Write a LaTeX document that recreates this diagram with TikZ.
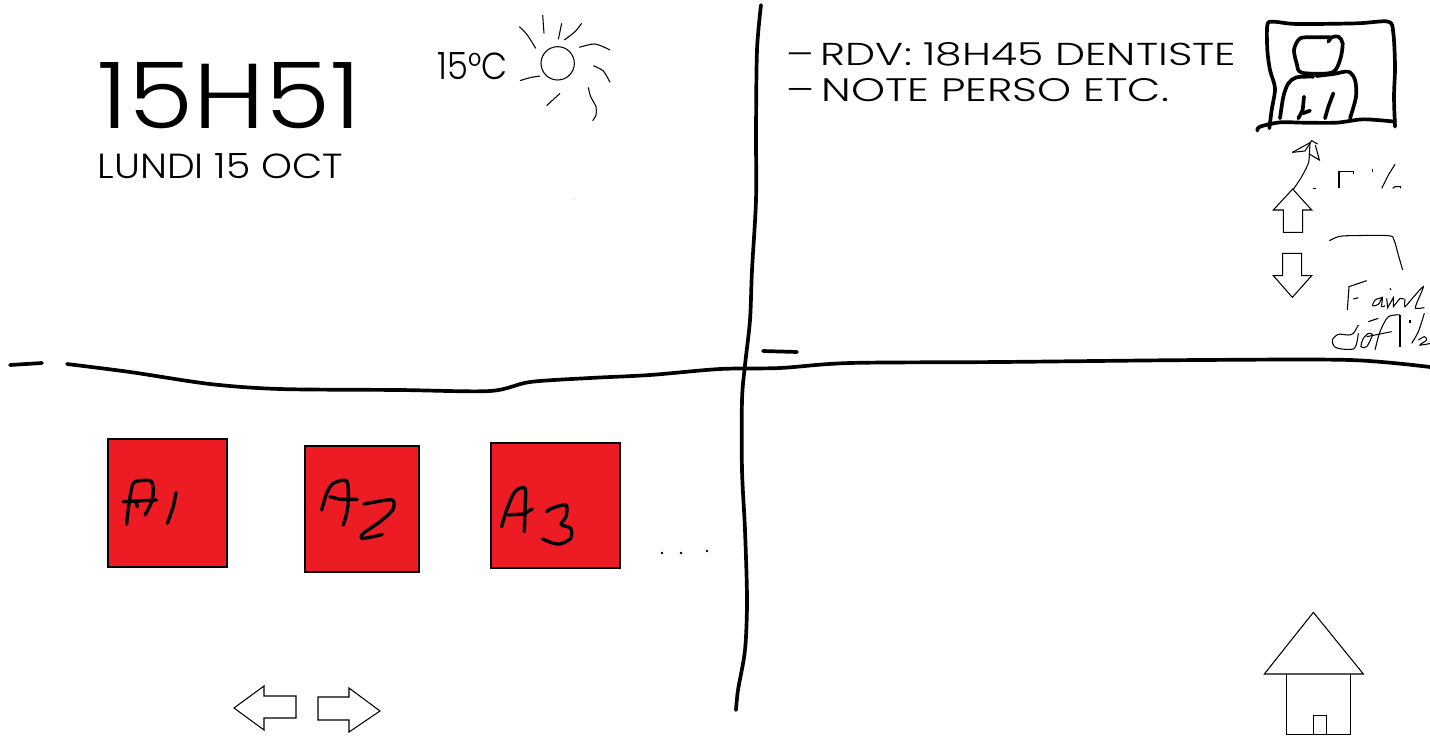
\documentclass[tikz,border=0pt]{standalone}
\usepackage{fontspec}
\newfontfamily\screenfont{Poppins Light}
\definecolor{tilered}{HTML}{ED1C24}
\tikzset{
  inkline/.style={line width=1.05pt,line cap=round,line join=round},
  penline/.style={line width=.95pt,line cap=round,line join=round},
  hairline/.style={line width=.3pt,line join=miter},
  tile/.style={fill=tilered,draw=black,line width=.3pt},
  screentext/.style={anchor=base west,inner sep=0pt,font=\screenfont}
}
\newcommand{\fitbox}[3]{\resizebox{#1cm}{#2cm}{#3}}
\begin{document}
\begin{tikzpicture}[x=.01cm,y=-.01cm]
  \useasboundingbox(0,0) rectangle(1430,751);
  \draw[inkline] plot[smooth] coordinates{(761,5)(757,50)(756,130)(756,200)(752,270)(750,320)(745,365)(742,400)(742,470)(745,530)(747,600)(745,650)(738,690)(736,710)};
  \draw[inkline](10,365)--(42,363);
  \draw[inkline] plot[smooth] coordinates{(67,364)(130,372)(210,384)(280,389)(400,390)(490,391)(530,382)(590,378)(650,375)(720,369)(780,368)(850,363)(1000,362)(1200,360)(1350,360)(1430,367)};
  \draw[inkline](763,351)--(797,352);
  \node[screentext] (clock) at(97,128){\fitbox{2.63}{.66}{15H51}};
  \node[screentext] (date) at(97,178){\fitbox{2.45}{.25}{LUNDI 15 OCT}};
  \node[screentext] (temp) at(437,79){\fitbox{.70}{.27}{15°C}};
  \node[screentext] (noteone) at(786,65){\fitbox{4.49}{.23}{–\hspace{-.12em} RDV: 18H45 DENTISTE}};
  \node[screentext] (notetwo) at(786,101){\fitbox{3.82}{.23}{–\hspace{-.12em} NOTE PERSO ETC.}};
  \begin{scope}[shift={(420,0)},scale=1/3,hairline]
    \draw(413,190) circle(50);
    \draw(368,45)--(372,100);
    \draw plot[smooth] coordinates{(298,80)(318,100)(335,125)(347,145)};
    \draw(425,70)--(415,118);
    \draw plot[smooth] coordinates{(485,70)(465,95)(433,120)};
    \draw plot[smooth] coordinates{(478,142)(525,132)(570,150)};
    \draw plot[smooth] coordinates{(520,197)(550,213)(570,247)};
    \draw plot[smooth] coordinates{(505,262)(512,290)(528,320)(528,345)(518,362)};
    \draw(420,280)--(380,317);
    \draw plot[smooth] coordinates{(300,242)(330,233)(360,228)};
  \end{scope}
  \fill(574,199) circle(.4);
  \begin{scope}[shift={(1230,0)},scale=1/3]
    \draw[inkline] plot[smooth] coordinates{(118,385)(125,330)(135,265)(120,210)(112,150)(112,75)(130,65)(200,72)(380,70)(475,65)(490,100)(495,200)(492,290)(495,380)};
    \draw[inkline] plot[smooth] coordinates{(82,392)(90,380)(150,367)(220,368)(320,368)(400,358)(495,365)};
    \draw[inkline] plot[smooth] coordinates{(295,125)(305,112)(325,110)(338,130)(330,180)(305,218)(215,218)(200,190)(192,150)(205,120)(225,112)(300,112)};
    \draw[inkline] plot[smooth] coordinates{(250,230)(200,232)(175,250)(160,290)(150,355)};
    \draw[inkline] plot[smooth] coordinates{(260,228)(310,222)(355,215)(375,240)(378,290)(360,355)};
    \draw[inkline](222,290)--(218,330)--(205,355);
    \draw[inkline](218,340)--(240,332);
    \draw[inkline](310,280)--(295,320)--(285,355);
    \draw[hairline](187,457)--(225,453)--(245,422)--(263,432);
    \draw[hairline](187,457)--(240,428);
    \draw[hairline](240,430)--(238,462)--(268,480)--(256,435);
    \draw[hairline] plot[smooth] coordinates{(238,462)(235,490)(215,530)(190,568)};
    \draw[hairline](248,565)--(258,565);
    \draw[hairline](327,565)--(327,515)--(370,515)--(370,522);
    \draw[hairline](427,507)--(427,515);
    \draw[hairline](455,565)--(475,525)--(495,493);
    \draw[hairline](488,565)--(495,560)--(512,560)--(512,565);
  \end{scope}
  \begin{scope}[shift={(1250,170)},scale=1/3,hairline]
    \draw(128,57)--(70,120)--(100,120)--(100,187)--(158,187)--(158,120)--(185,120)--cycle;
    \draw(98,250)--(155,250)--(155,317)--(185,317)--(127,382)--(70,317)--(98,317)--cycle;
    \draw plot[smooth] coordinates{(238,212)(265,200)(300,197)(415,197)(432,210)(445,255)(458,300)};
  \end{scope}
  \begin{scope}[shift={(1325,275)},scale=1/3,hairline]
    \draw(67,105)--(72,35)--(125,17);
    \draw(85,72)--(100,68);
    \draw plot[smooth] coordinates{(170,68)(150,75)(143,92)(160,88)(172,68)(170,95)(180,92)};
    \draw(195,40)--(198,45);
    \draw(185,70)--(188,98)--(205,68)--(205,95)--(225,70)--(238,72);
    \draw plot[smooth] coordinates{(240,72)(240,95)(262,70)(295,35)(275,85)(272,100)(298,98)};
    \draw plot[smooth] coordinates{(100,150)(85,175)(70,180)(40,178)(22,195)(28,215)(50,222)(85,222)(95,205)(100,175)};
    \draw plot[smooth] coordinates{(130,175)(115,190)(108,215)(125,215)(142,180)(130,175)};
    \draw(130,140)--(160,130);
    \draw plot[smooth] coordinates{(150,225)(165,170)(190,125)(225,120)};
    \draw(125,185)--(200,170);
    \draw(225,120)--(225,215);
    \draw(255,135)--(255,145);
    \draw plot[smooth] coordinates{(260,205)(280,170)(298,115)};
    \draw plot[smooth] coordinates{(280,195)(298,185)(305,195)(285,210)(318,205)};
  \end{scope}
  \draw[tile](108,439) rectangle(227,567);
  \draw[tile](305,446) rectangle(419,572);
  \draw[tile](491,443) rectangle(620,568);
  \begin{scope}[shift={(100,430)},scale=1/3]
    \draw[penline] plot[smooth] coordinates{(80,283)(85,235)(95,175)(105,155)(150,152)(160,175)(155,215)(135,255)};
    \draw[penline](70,215)--(170,210);
    \draw[penline](108,215)--(112,230);
    \draw[penline](228,188)--(220,230)--(202,280);
    \draw[penline] plot[smooth] coordinates{(665,240)(680,190)(700,160)(740,153)(745,210)(740,250)(730,285)};
    \draw[penline](690,200)--(720,208)--(772,208);
    \draw[penline] plot[smooth] coordinates{(792,222)(830,215)(878,210)(878,240)(840,275)(790,310)(785,325)(820,320)(847,313)};
  \end{scope}
  \begin{scope}[shift={(480,430)},scale=1/3]
    \draw[penline] plot[smooth] coordinates{(65,290)(80,240)(105,185)(135,175)(135,240)(133,305)};
    \draw[penline](85,255)--(130,252)--(157,237);
    \draw[penline] plot[smooth] coordinates{(200,245)(215,235)(258,225)(258,260)(243,283)(272,295)(272,325)(240,342)(215,338)(188,327)};
  \end{scope}
  \fill(662,553) circle(1.3);
  \fill(681,553) circle(1.3);
  \fill(707,551) circle(1.3);
  \draw[hairline](234,708)--(264,686)--(264,696)--(296,696)--(296,718)--(264,718)--(264,730)--cycle;
  \draw[hairline](318,697)--(349,697)--(349,688)--(380,711)--(349,732)--(349,720)--(318,720)--cycle;
  \begin{scope}[shift={(1250,600)},scale=1/3,hairline]
    \draw(43,222)--(190,37)--(340,222)--cycle;
    \draw(110,222)--(110,403)--(301,403)--(301,222);
    \draw(190,403)--(190,346)--(230,346)--(230,403);
  \end{scope}
\end{tikzpicture}
\end{document}
